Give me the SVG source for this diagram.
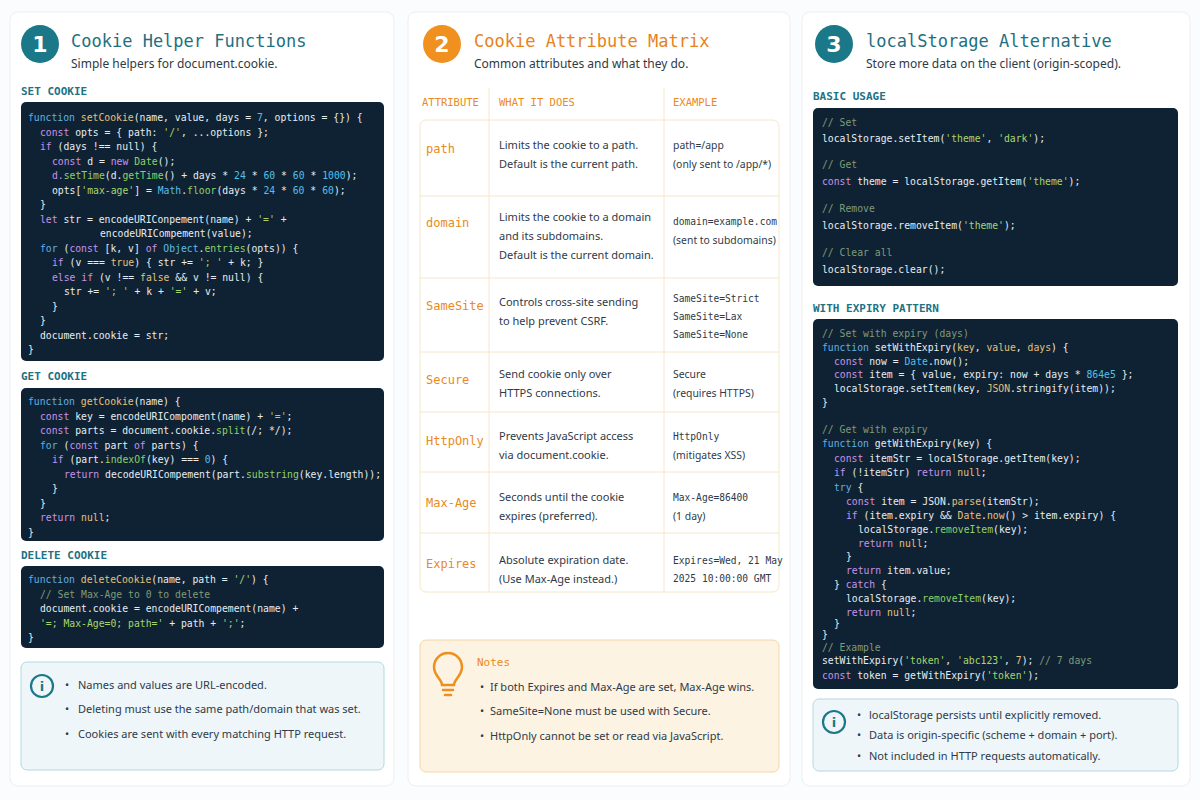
<svg xmlns="http://www.w3.org/2000/svg" width="1200" height="800" viewBox="0 0 1200 800">
<style>
.panel{fill:#fff;stroke:#eceff2;stroke-width:1}
.title{font-family:"DejaVu Sans Mono",monospace;font-size:17px;font-weight:500}
.sub{font-family:"Noto Sans",sans-serif;font-size:12px;fill:#2f3a45}
.sec{font-family:"DejaVu Sans Mono",monospace;font-size:11px;font-weight:bold;fill:#1d7283}
.code{fill:#0f2233}
.cd{font-family:"DejaVu Sans Mono",monospace;font-size:9.75px;fill:#e6edf2}
.k{fill:#c792ea}.b{fill:#5fb0e6}.f{fill:#e6c07b}.s{fill:#a8d66c}.n{fill:#52c0ea}.m{fill:#8fd16a}.c{fill:#7f9b78}.o{fill:#5bbde8}
.num{font-family:"DejaVu Sans",sans-serif;font-size:22px;font-weight:bold;fill:#fff}
.tx{font-family:"Noto Sans",sans-serif;font-size:11px;fill:#2f3a48}
.tx2{font-family:"Noto Sans",sans-serif;font-size:10.4px;fill:#2f3a48}
.ex{font-family:"DejaVu Sans Mono",monospace;font-size:9.6px;fill:#2f3a48}
.at{font-family:"DejaVu Sans Mono",monospace;font-size:12px;fill:#ea8a20}
.th{font-family:"DejaVu Sans Mono",monospace;font-size:10.5px;fill:#ea8a20}
.grid{stroke:#f6e6cc;stroke-width:1;fill:none}
</style>
<rect width="1200" height="800" fill="#fbfcfd"/>

<g id="panel1">
<rect class="panel" x="10" y="12" width="384" height="774" rx="8"/>
<circle cx="40" cy="44" r="19" fill="#1a7888"/>
<text class="num" x="40" y="52" text-anchor="middle">1</text>
<text class="title" x="71" y="47" fill="#1f7080">Cookie Helper Functions</text>
<text class="sub" x="71" y="68">Simple helpers for document.cookie.</text>
<text class="sec" x="21" y="95">SET COOKIE</text>
<rect class="code" x="21" y="102" width="363" height="259" rx="5"/>
<g class="cd">
<text x="28" y="121"><tspan class="b">function</tspan> <tspan class="f">setCookie</tspan>(name, value, days = <tspan class="n">7</tspan>, options = {}) {</text>
<text x="40" y="135.5"><tspan class="k">const</tspan> opts = { path: <tspan class="s">'/'</tspan>, ...options };</text>
<text x="40" y="150"><tspan class="k">if</tspan> (days !== null) {</text>
<text x="52" y="164.5"><tspan class="k">const</tspan> d = <tspan class="k">new</tspan> <tspan class="m">Date</tspan>();</text>
<text x="52" y="179"><tspan class="k">d.</tspan><tspan class="m">setTime</tspan>(d.<tspan class="m">getTime</tspan>() + days * <tspan class="n">24</tspan> * <tspan class="n">60</tspan> * <tspan class="n">60</tspan> * <tspan class="n">1000</tspan>);</text>
<text x="52" y="193.5">opts[<tspan class="s">'max-age'</tspan>] = <tspan class="o">Math</tspan>.<tspan class="m">floor</tspan>(days * <tspan class="n">24</tspan> * <tspan class="n">60</tspan> * <tspan class="n">60</tspan>);</text>
<text x="40" y="208">}</text>
<text x="40" y="222.5"><tspan class="k">let</tspan> str = encodeURIConpement(name) + <tspan class="s">'='</tspan> +</text>
<text x="100" y="237">encodeURICompement(value);</text>
<text x="40" y="251.5"><tspan class="b">for</tspan> (<tspan class="k">const</tspan> [k, v] <tspan class="k">of</tspan> <tspan class="o">Object</tspan>.<tspan class="m">entries</tspan>(opts)) {</text>
<text x="52" y="266"><tspan class="k">if</tspan> (v === <tspan class="f">true</tspan>) { str += <tspan class="s">'; '</tspan> + k; }</text>
<text x="52" y="280.5"><tspan class="k">else if</tspan> (v !== <tspan class="f">false</tspan> &amp;&amp; v != null) {</text>
<text x="64" y="295">str += <tspan class="s">'; '</tspan> + k + <tspan class="s">'='</tspan> + v;</text>
<text x="52" y="309.5">}</text>
<text x="40" y="324">}</text>
<text x="40" y="338.5">document.cookie = str;</text>
<text x="28" y="353">}</text>
</g>
<text class="sec" x="21" y="380">GET COOKIE</text>
<rect class="code" x="21" y="388" width="363" height="153" rx="5"/>
<g class="cd">
<text x="28" y="405"><tspan class="b">function</tspan> <tspan class="f">getCookie</tspan>(name) {</text>
<text x="40" y="419.5"><tspan class="k">const</tspan> key = encodeURICompoment(name) + <tspan class="s">'='</tspan>;</text>
<text x="40" y="434"><tspan class="k">const</tspan> parts = document.cookie.<tspan class="m">split</tspan>(/; */);</text>
<text x="40" y="448.5"><tspan class="b">for</tspan> (<tspan class="k">const</tspan> part <tspan class="k">of</tspan> parts) {</text>
<text x="52" y="463"><tspan class="k">if</tspan> (part.<tspan class="m">indexOf</tspan>(key) === <tspan class="n">0</tspan>) {</text>
<text x="64" y="477.5"><tspan class="k">return</tspan> decodeURICompement(part.<tspan class="m">substring</tspan>(key.length));</text>
<text x="52" y="492">}</text>
<text x="40" y="506.5">}</text>
<text x="40" y="521"><tspan class="k">return</tspan> <tspan class="f">null</tspan>;</text>
<text x="28" y="535.5">}</text>
</g>
<text class="sec" x="21" y="559">DELETE COOKIE</text>
<rect class="code" x="21" y="566" width="363" height="82" rx="5"/>
<g class="cd">
<text x="28" y="583"><tspan class="b">function</tspan> <tspan class="f">deleteCookie</tspan>(name, path = <tspan class="s">'/'</tspan>) {</text>
<text x="40" y="597.5" class="c">// Set Max-Age to 0 to delete</text>
<text x="40" y="612">document.cookie = encodeURICompement(name) +</text>
<text x="40" y="627"><tspan class="s">'=; Max-Age=0; path='</tspan> + path + <tspan class="s">';'</tspan>;</text>
<text x="28" y="641">}</text>
</g>
<rect x="21" y="662" width="363" height="108" rx="6" fill="#eef6fa" stroke="#b2d8e0"/>
<circle cx="42" cy="686" r="11" fill="none" stroke="#1a7888" stroke-width="2.2"/>
<text x="42" y="691" text-anchor="middle" font-family="DejaVu Sans,sans-serif" font-size="13" font-weight="bold" fill="#1a7888">i</text>
<g class="tx">
<text x="65" y="689">•</text><text x="78" y="689">Names and values are URL-encoded.</text>
<text x="65" y="713">•</text><text x="78" y="713">Deleting must use the same path/domain that was set.</text>
<text x="65" y="738">•</text><text x="78" y="738">Cookies are sent with every matching HTTP request.</text>
</g>
</g>

<g id="panel2">
<rect class="panel" x="408" y="12" width="382" height="774" rx="8"/>
<circle cx="442" cy="44" r="19" fill="#f0901e"/>
<text class="num" x="442" y="52" text-anchor="middle">2</text>
<text class="title" x="474" y="47" fill="#e8821a">Cookie Attribute Matrix</text>
<text class="sub" x="474" y="68">Common attributes and what they do.</text>
<text class="th" x="422" y="106">ATTRIBUTE</text>
<text class="th" x="499" y="106">WHAT IT DOES</text>
<text class="th" x="673" y="106">EXAMPLE</text>
<rect x="420" y="120" width="359" height="472" rx="6" fill="#fff" stroke="#f6e6cc"/>
<path class="grid" d="M489 88V592M664 88V592M420 196H779M420 278H779M420 352H779M420 412H779M420 472H779M420 533H779"/>
<g>
<text class="at" x="426" y="153">path</text>
<text class="at" x="426" y="227">domain</text>
<text class="at" x="426" y="310">SameSite</text>
<text class="at" x="426" y="384">Secure</text>
<text class="at" x="426" y="445">HttpOnly</text>
<text class="at" x="426" y="507">Max-Age</text>
<text class="at" x="426" y="568">Expires</text>
</g>
<g class="tx">
<text x="499" y="149">Limits the cookie to a path.</text>
<text x="499" y="168">Default is the current path.</text>
<text x="499" y="221">Limits the cookie to a domain</text>
<text x="499" y="240">and its subdomains.</text>
<text x="499" y="259">Default is the current domain.</text>
<text x="499" y="306">Controls cross-site sending</text>
<text x="499" y="325">to help prevent CSRF.</text>
<text x="499" y="378">Send cookie only over</text>
<text x="499" y="397">HTTPS connections.</text>
<text x="499" y="440">Prevents JavaScript access</text>
<text x="499" y="459">via document.cookie.</text>
<text x="499" y="501">Seconds until the cookie</text>
<text x="499" y="520">expires (preferred).</text>
<text x="499" y="564">Absolute expiration date.</text>
<text x="499" y="583">(Use Max-Age instead.)</text>
</g>
<g class="tx2">
<text x="673" y="149">path=/app</text>
<text x="673" y="168">(only sent to /app/*)</text>
<text x="673" y="244">(sent to subdomains)</text>
<text x="673" y="378">Secure</text>
<text x="673" y="397">(requires HTTPS)</text>
<text x="673" y="459">(mitigates XSS)</text>
<text x="673" y="520">(1 day)</text>
</g>
<g class="ex">
<text x="673" y="225">domain=example.com</text>
<text x="673" y="302">SameSite=Strict</text>
<text x="673" y="320">SameSite=Lax</text>
<text x="673" y="338">SameSite=None</text>
<text x="673" y="440">HttpOnly</text>
<text x="673" y="501">Max-Age=86400</text>
<text x="673" y="564">Expires=Wed, 21 May</text>
<text x="673" y="582">2025 10:00:00 GMT</text>
</g>
<rect x="420" y="640" width="359" height="132" rx="6" fill="#fdf3e3" stroke="#f4d6a2"/>
<g fill="none" stroke="#ee8f1e" stroke-width="2.5" stroke-linecap="round">
<path d="M442 685c0-6-8-9-8-18a14 14 0 0 1 28 0c0 9-8 12-8 18z"/>
<path d="M443 690h10M445 695h6"/>
</g>
<text x="477" y="666" font-family="DejaVu Sans Mono,monospace" font-size="11" fill="#ea8a20">Notes</text>
<g class="tx">
<text x="480" y="691">•</text><text x="490" y="691">If both Expires and Max-Age are set, Max-Age wins.</text>
<text x="480" y="715">•</text><text x="490" y="715">SameSite=None must be used with Secure.</text>
<text x="480" y="740">•</text><text x="490" y="740">HttpOnly cannot be set or read via JavaScript.</text>
</g>
</g>

<g id="panel3">
<rect class="panel" x="802" y="12" width="388" height="774" rx="8"/>
<circle cx="834" cy="44" r="19" fill="#1a7888"/>
<text class="num" x="834" y="52" text-anchor="middle">3</text>
<text class="title" x="866" y="47" fill="#1f7080">localStorage Alternative</text>
<text class="sub" x="866" y="68">Store more data on the client (origin-scoped).</text>
<text class="sec" x="813" y="100">BASIC USAGE</text>
<rect class="code" x="813" y="108" width="365" height="178" rx="5"/>
<g class="cd">
<text x="822" y="126" class="c">// Set</text>
<text x="822" y="142">localStorage.setItem(<tspan class="s">'theme'</tspan>, <tspan class="s">'dark'</tspan>);</text>
<text x="822" y="168" class="c">// Get</text>
<text x="822" y="185"><tspan class="k">const</tspan> theme = localStorage.getItem(<tspan class="s">'theme'</tspan>);</text>
<text x="822" y="212" class="c">// Remove</text>
<text x="822" y="229">localStorage.removeItem(<tspan class="s">'theme'</tspan>);</text>
<text x="822" y="256" class="c">// Clear all</text>
<text x="822" y="273">localStorage.clear();</text>
</g>
<text class="sec" x="813" y="312">WITH EXPIRY PATTERN</text>
<rect class="code" x="813" y="319" width="365" height="370" rx="5"/>
<g class="cd">
<text x="822" y="337" class="c">// Set with expiry (days)</text>
<text x="822" y="351"><tspan class="b">function</tspan> setWithExpiry(<tspan class="f">key</tspan>, <tspan class="f">value</tspan>, <tspan class="f">days</tspan>) {</text>
<text x="834" y="364.5"><tspan class="k">const</tspan> now = <tspan class="o">Date</tspan>.now();</text>
<text x="834" y="378"><tspan class="k">const</tspan> item = { value, expiry: now + days * <tspan class="n">864e5</tspan> };</text>
<text x="834" y="392">localStorage.setItem(key, <tspan class="f">JSON</tspan>.stringify(item));</text>
<text x="822" y="406">}</text>
<text x="822" y="433" class="c">// Get with expiry</text>
<text x="822" y="447"><tspan class="b">function</tspan> getWithExpiry(key) {</text>
<text x="834" y="462"><tspan class="k">const</tspan> itemStr = localStorage.getItem(key);</text>
<text x="834" y="476"><tspan class="k">if</tspan> (!itemStr) <tspan class="k">return</tspan> <tspan class="f">null</tspan>;</text>
<text x="834" y="491"><tspan class="b">try</tspan> {</text>
<text x="846" y="505"><tspan class="k">const</tspan> item = JSON.<tspan class="f">parse</tspan>(itemStr);</text>
<text x="846" y="519"><tspan class="k">if</tspan> (item.expiry &amp;&amp; <tspan class="f">Date</tspan>.<tspan class="f">now</tspan>() &gt; item.expiry) {</text>
<text x="858" y="533">localStorage.<tspan class="m">removeItem</tspan>(key);</text>
<text x="858" y="547"><tspan class="k">return</tspan> <tspan class="f">null</tspan>;</text>
<text x="846" y="560">}</text>
<text x="846" y="574"><tspan class="k">return</tspan> item.value;</text>
<text x="834" y="588">} <tspan class="k">catch</tspan> {</text>
<text x="846" y="602">localStorage.<tspan class="m">removeItem</tspan>(key);</text>
<text x="846" y="616"><tspan class="k">return</tspan> <tspan class="f">null</tspan>;</text>
<text x="834" y="627">}</text>
<text x="822" y="638">}</text>
<text x="822" y="651" class="c">// Example</text>
<text x="822" y="664">setWithExpiry(<tspan class="s">'token'</tspan>, <tspan class="s">'abc123'</tspan>, <tspan class="f">7</tspan>); <tspan class="c">// 7 days</tspan></text>
<text x="822" y="679"><tspan class="k">const</tspan> token = getWithExpiry(<tspan class="s">'token'</tspan>);</text>
</g>
<rect x="813" y="699" width="365" height="72" rx="6" fill="#eef6fa" stroke="#b2d8e0"/>
<circle cx="834" cy="722" r="11" fill="none" stroke="#1a7888" stroke-width="2.2"/>
<text x="834" y="727" text-anchor="middle" font-family="DejaVu Sans,sans-serif" font-size="13" font-weight="bold" fill="#1a7888">i</text>
<g class="tx">
<text x="857" y="719">•</text><text x="869" y="719">localStorage persists until explicitly removed.</text>
<text x="857" y="739">•</text><text x="869" y="739">Data is origin-specific (scheme + domain + port).</text>
<text x="857" y="760">•</text><text x="869" y="760">Not included in HTTP requests automatically.</text>
</g>
</g>
</svg>
